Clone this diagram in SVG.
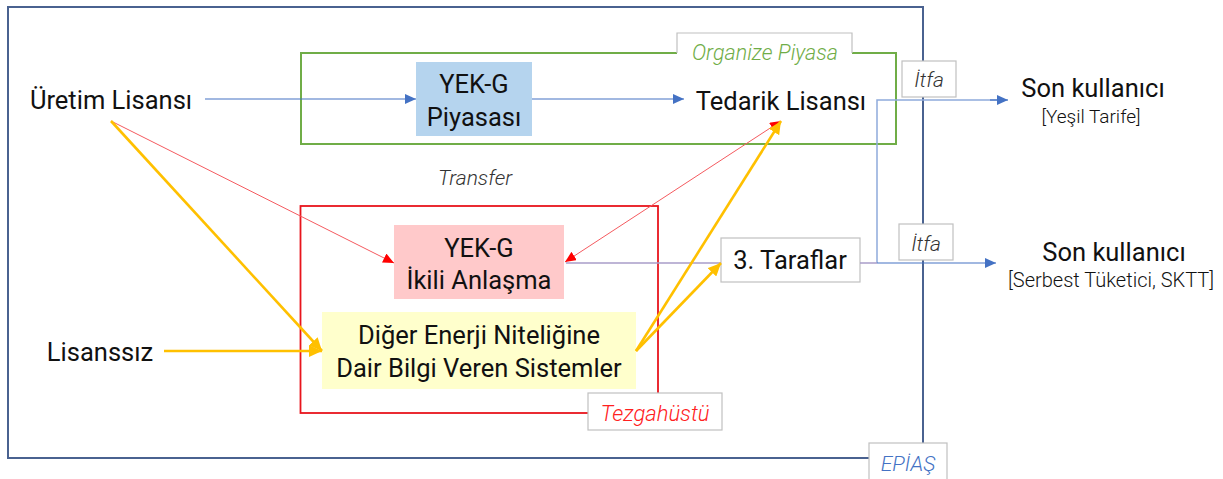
<svg xmlns="http://www.w3.org/2000/svg" width="1223" height="479" viewBox="0 0 1223 479">
<style>
.t{font-family:Roboto,"Liberation Sans",sans-serif;fill:#111;text-anchor:middle;font-weight:400}
.big{font-size:25.5px}
.sm{font-size:19px;font-weight:300}
.it{font-style:italic;font-size:21px;font-weight:300}
.tab{fill:#fff;stroke:#c0c0c0;stroke-width:1.2}
.blue{stroke:#4472C4;stroke-width:1.2;fill:none}
.lblue{stroke:#8FAADC;stroke-width:1.5;fill:none}
.redl{stroke:#F45A5F;stroke-width:1;fill:none}
.yel{stroke:#FFC000;stroke-width:2.6;fill:none}
.pur{stroke:#A99CC8;stroke-width:1.5;fill:none}
</style>
<defs>
<marker id="ab" markerUnits="userSpaceOnUse" markerWidth="12" markerHeight="10" refX="11" refY="5" orient="auto"><path d="M0,0 L11,5 L0,10 Z" fill="#4472C4"/></marker>
<marker id="ar" markerUnits="userSpaceOnUse" markerWidth="12" markerHeight="10" refX="11" refY="5" orient="auto-start-reverse"><path d="M0,0 L11,5 L0,10 Z" fill="#FF0000"/></marker>
<marker id="ay" markerUnits="userSpaceOnUse" markerWidth="14" markerHeight="12" refX="13" refY="6" orient="auto"><path d="M0,0 L13,6 L0,12 Z" fill="#FFC000"/></marker>
</defs>
<rect width="1223" height="479" fill="#fff"/>

<g id="epias">
<rect x="8" y="7" width="915" height="451" fill="none" stroke="#4A6290" stroke-width="2"/>
</g>
<g id="organize">
<rect x="301" y="53" width="595" height="91" fill="none" stroke="#70AD47" stroke-width="2"/>
</g>
<g id="tezgah">
<rect x="300.5" y="206" width="357.5" height="207" fill="none" stroke="#E8141C" stroke-width="1.8"/>
</g>

<g id="node-yekg-piyasa">
<rect x="416" y="62" width="116" height="74" fill="#B5D4EE"/>
<text class="t big" x="474" y="93">YEK-G</text>
<text class="t big" x="474" y="126">Piyasası</text>
</g>
<g id="node-yekg-ikili">
<rect x="394" y="225" width="170" height="74" fill="#FFC9CA"/>
<text class="t big" x="479" y="257">YEK-G</text>
<text class="t big" x="479" y="289">İkili Anlaşma</text>
</g>
<g id="node-diger">
<rect x="322" y="312" width="314" height="77" fill="#FFFFCC"/>
<text class="t big" x="479" y="344">Diğer Enerji Niteliğine</text>
<text class="t big" x="479" y="377">Dair Bilgi Veren Sistemler</text>
</g>
<g id="node-uretim">
<text class="t big" x="111" y="109">Üretim Lisansı</text>
</g>
<g id="node-lisanssiz">
<text class="t big" x="100" y="361">Lisanssız</text>
</g>
<g id="node-tedarik">
<text class="t big" x="781" y="110">Tedarik Lisansı</text>
</g>
<g id="node-taraflar">
<rect x="721" y="238" width="139" height="44" fill="#fff" stroke="#c0c0c0" stroke-width="1.2"/>
<text class="t big" x="790" y="269">3. Taraflar</text>
</g>
<g id="node-son1">
<text class="t big" x="1093" y="97">Son kullanıcı</text>
<text class="t sm" x="1091" y="123">[Yeşil Tarife]</text>
</g>
<g id="node-son2">
<text class="t big" x="1114" y="261">Son kullanıcı</text>
<text class="t sm" x="1111" y="287" style="font-size:20px">[Serbest Tüketici, SKTT]</text>
</g>
<g id="label-transfer">
<text class="t it" x="475" y="185" style="fill:#333">Transfer</text>
</g>

<g id="connectors">
<line class="blue" x1="205" y1="99" x2="416" y2="99" marker-end="url(#ab)"/>
<line class="blue" x1="532" y1="99" x2="684" y2="99" marker-end="url(#ab)"/>
<line class="redl" x1="111" y1="121" x2="394" y2="263" marker-end="url(#ar)"/>
<line class="redl" x1="565" y1="262" x2="781" y2="121" marker-start="url(#ar)" marker-end="url(#ar)"/>
<line class="pur" x1="566" y1="263" x2="721" y2="263"/>
<line class="yel" x1="111" y1="121" x2="322" y2="351" marker-end="url(#ay)"/>
<line class="yel" x1="164" y1="351" x2="322" y2="351" marker-end="url(#ay)"/>
<line class="yel" x1="636" y1="351" x2="781" y2="121" marker-end="url(#ay)"/>
<line class="yel" x1="636" y1="351" x2="721" y2="263" marker-end="url(#ay)"/>
<polyline class="lblue" points="877,263 877,100 1000,100"/>
<line class="blue" x1="990" y1="100" x2="1008" y2="100" marker-end="url(#ab)"/>
<line class="pur" x1="860" y1="263" x2="877" y2="263"/>
<line class="blue" x1="877" y1="263" x2="996" y2="263" marker-end="url(#ab)"/>
</g>

<g id="tab-organize">
<rect x="677" y="33" width="175" height="28" fill="#fff"/>
<path d="M677,53 V33 H852 V53" fill="none" stroke="#c0c0c0" stroke-width="1.2"/>
<text class="t it" x="765" y="60" style="fill:#70AD47;font-size:21.5px">Organize Piyasa</text>
</g>
<g id="tab-itfa1">
<rect class="tab" x="902" y="61" width="54" height="36"/>
<text class="t it" x="929" y="87" style="fill:#333">İtfa</text>
</g>
<g id="tab-itfa2">
<rect class="tab" x="899" y="224" width="54" height="36"/>
<text class="t it" x="926" y="251" style="fill:#333">İtfa</text>
</g>
<g id="tab-tezgah">
<rect class="tab" x="588" y="393" width="134" height="37"/>
<text class="t it" x="655" y="421" style="fill:#FF2020;font-size:22px">Tezgahüstü</text>
</g>
<g id="tab-epias">
<rect class="tab" x="869" y="443" width="78" height="40"/>
<text class="t it" x="908" y="471" style="fill:#4472C4">EPİAŞ</text>
</g>
</svg>
